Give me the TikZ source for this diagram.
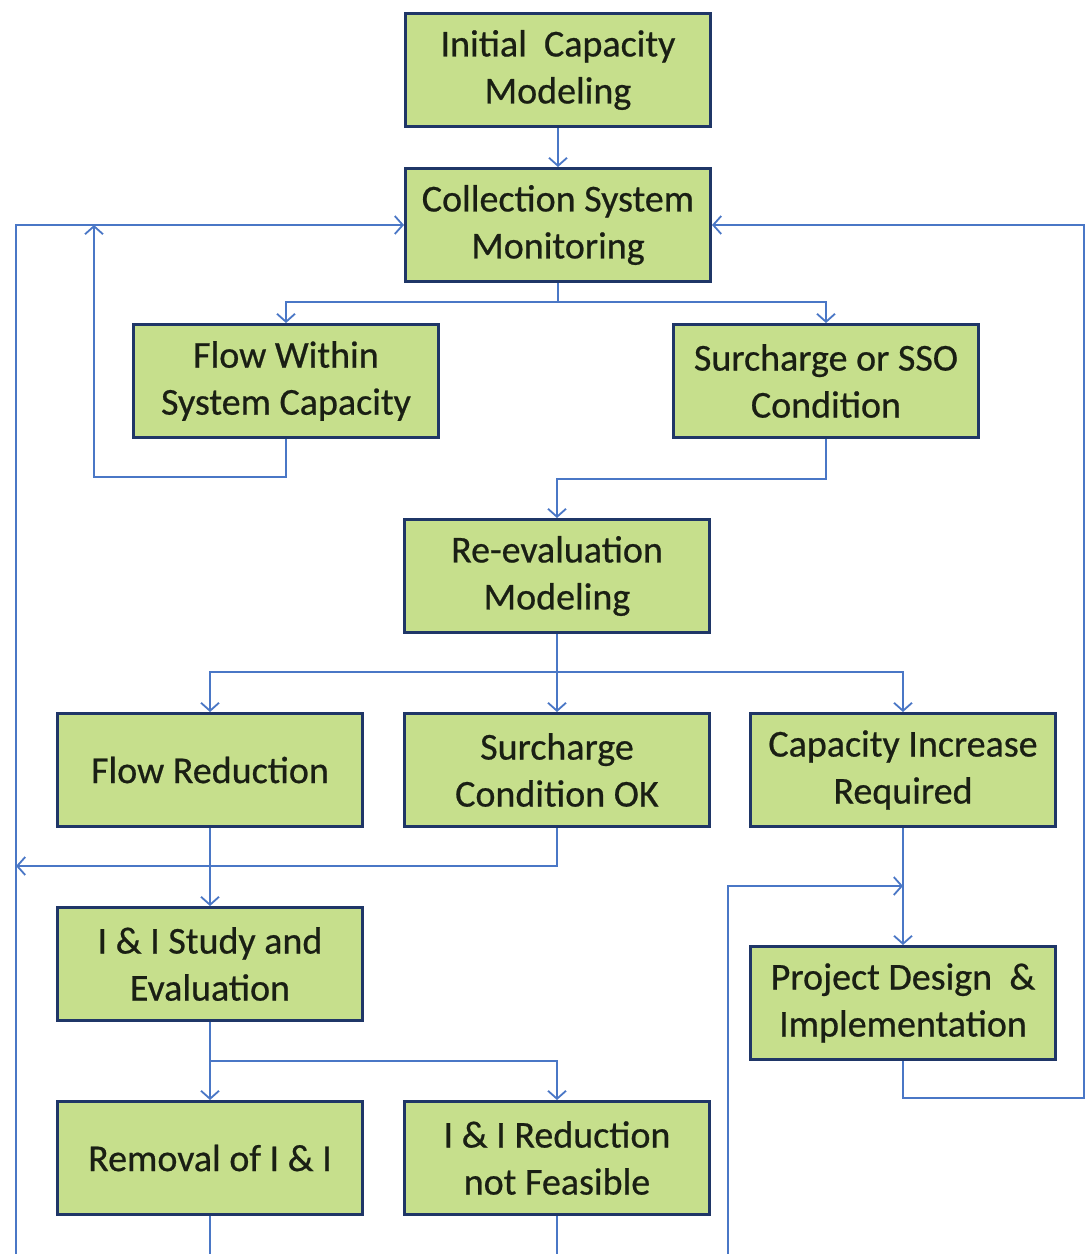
\documentclass[tikz,border=0pt]{standalone}
\usepackage{fontspec}
\setmainfont[FakeBold=0.6]{Carlito}
\usepackage{tikz}
\usetikzlibrary{arrows.meta,calc,positioning}
\definecolor{capfill}{HTML}{C6DF8C}
\definecolor{capborder}{HTML}{1F3667}
\definecolor{capline}{HTML}{4A77C6}
\definecolor{captext}{HTML}{1A1F14}
\tikzset{
  procbox/.style={draw=capborder,line width=1.5pt,fill=capfill,minimum width=152.5pt,
    minimum height=56.5pt,inner sep=2pt,align=center,text=captext,
    font=\fontsize{19pt}{23.5pt}\selectfont},
  flow/.style={-{Straight Barb[length=4pt,width=9pt,line width=0.9pt]},line width=0.9pt,draw=capline},
  rail/.style={line width=0.9pt,draw=capline}
}

\begin{document}
\begin{tikzpicture}[x=0.5pt,y=-0.5pt]
    \useasboundingbox[fill=white] (0,0) rectangle (1086,1254);
    % boxes
    \node[procbox] (initial) at (558,70) {Initial\ \ Capacity\\Modeling};
    \node[procbox,below=19.5pt of initial] (monitor) {Collection System\\Monitoring};
    \node[procbox] (within) at (286,381) {Flow Within\\System Capacity};
    \node[procbox] (sso) at (826,381) {Surcharge or SSO\\Condition};
    \node[procbox] (reeval) at (557,576) {Re-evaluation\\Modeling};
    \node[procbox,below=39pt of reeval] (condok) {Surcharge\\Condition OK};
    \node[procbox,left=19.5pt of condok] (reduce) {Flow Reduction};
    \node[procbox,right=19pt of condok] (increase) {Capacity Increase\\Required};
    \node[procbox,below=39pt of reduce] (study) {I \& I Study and\\Evaluation};
    \node[procbox,below=58.5pt of increase] (design) {Project Design\ \ \&\\Implementation};
    \node[procbox,below=39pt of study] (removal) {Removal of I \& I};
    \node[procbox,right=19.5pt of removal] (infeasible) {I \& I Reduction\\not Feasible};
    % rails running to the edges
    \coordinate (railL) at (16,1254);
    \coordinate (railM) at (728,1254);
    \coordinate (railR) at (1084,0);
    \coordinate (railW) at (94,0);
    \coordinate (okturn) at ($(condok.south)+(0,38)$);
    \coordinate (merge) at ($(increase.south)+(0,58)$);
    % connectors
    \draw[flow] (initial) -- (monitor);
    \draw[flow] (monitor.south) -- ++(0,19) -| (within.north);
    \draw[flow] (monitor.south) -- ++(0,19) -| (sso.north);
    \draw[flow] (within.south) -- ++(0,38) -| (railW |- monitor.west);
    \draw[flow] (railL) |- (monitor.west);
    \draw[flow] (design.south) -- ++(0,37) -| (railR |- monitor.east) -- (monitor.east);
    \draw[flow] (sso.south) -- ++(0,40) -| (reeval.north);
    \draw[flow] (reeval.south) -- ++(0,38) -| (reduce.north);
    \draw[flow] (reeval.south) -- (condok.north);
    \draw[flow] (reeval.south) -- ++(0,38) -| (increase.north);
    \draw[flow] (condok.south) -- (okturn) -- (okturn -| railL);
    \draw[flow] (reduce) -- (study);
    \draw[flow] (increase) -- (design);
    \draw[flow] (railM) |- (merge);
    \draw[flow] (study.south) -- ++(0,39) -| (removal.north);
    \draw[flow] (study.south) -- ++(0,39) -| (infeasible.north);
    \draw[rail] (removal.south) -- (removal.south |- railL);
    \draw[rail] (infeasible.south) -- (infeasible.south |- railM);
  \end{tikzpicture}
\end{document}
